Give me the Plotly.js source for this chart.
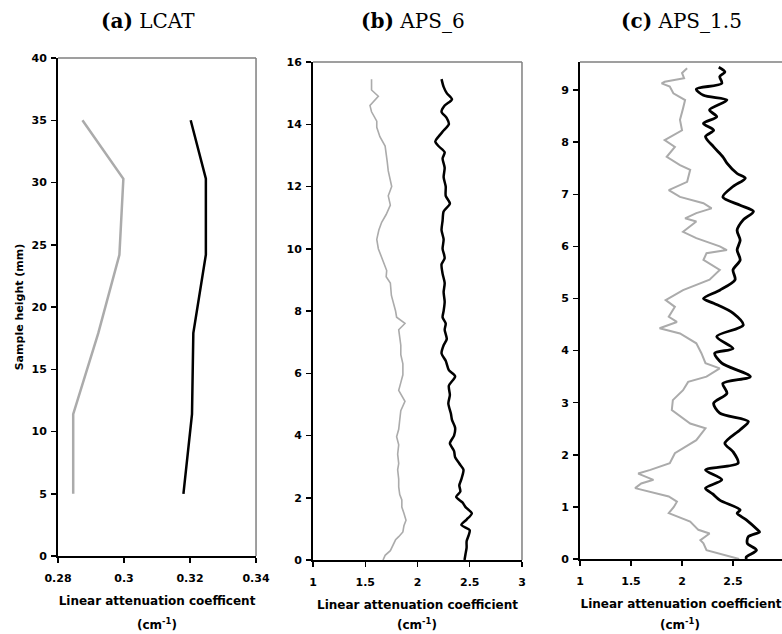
<!DOCTYPE html>
<html>
<head>
<meta charset="utf-8">
<script src="https://cdn.plot.ly/plotly-3.0.1.min.js"></script>
<style>html,body{margin:0;padding:0;background:#fff}#chart{width:782px;height:634px}</style>
</head>
<body>
<div id="chart"></div>
<script>
// ---- Data ----
// (a) LCAT
const heightsA = [5, 11.4, 17.9, 24.2, 30.3, 35];
const grayA    = [0.2846, 0.2846, 0.2922, 0.2986, 0.2998, 0.2874];
const blackA   = [0.318, 0.3206, 0.321, 0.3248, 0.3248, 0.3202];

// (b) APS_6
const heightsBgray = [0,0.15,0.3,0.5,0.65,0.75,0.9,1.1,1.28,1.5,1.7,1.93,2.1,2.35,2.6,2.9,3.1,3.4,3.7,3.96,4.2,4.5,4.8,5.1,5.3,5.45,5.7,5.95,6.3,6.6,6.9,7.2,7.4,7.6,7.8,8.0,8.24,8.5,8.9,9.1,9.3,9.6,10.0,10.3,10.6,10.85,11.1,11.4,11.7,12.0,12.2,12.5,12.8,13.0,13.3,13.6,13.9,14.1,14.4,14.6,14.9,15.1,15.3,15.45];
const grayB = [1.67,1.69,1.74,1.77,1.79,1.82,1.86,1.87,1.89,1.87,1.85,1.85,1.83,1.82,1.82,1.81,1.82,1.81,1.82,1.80,1.82,1.83,1.84,1.88,1.85,1.82,1.84,1.86,1.86,1.84,1.84,1.83,1.82,1.88,1.80,1.79,1.77,1.75,1.74,1.70,1.705,1.67,1.625,1.61,1.63,1.657,1.70,1.74,1.72,1.753,1.74,1.72,1.71,1.70,1.69,1.64,1.61,1.61,1.56,1.545,1.625,1.56,1.56,1.56];
const heightsBblack = [0,0.2,0.4,0.6,0.8,0.96,1.13,1.3,1.5,1.7,1.85,2.03,2.2,2.4,2.6,2.9,3.1,3.3,3.5,3.75,4.0,4.25,4.5,4.7,5.03,5.3,5.6,5.9,6.1,6.4,6.64,6.9,7.1,7.4,7.6,7.8,8.0,8.3,8.6,8.9,9.2,9.5,9.7,10.0,10.3,10.6,10.9,11.2,11.45,11.7,12.0,12.3,12.6,12.9,13.1,13.3,13.45,13.6,13.8,14.0,14.2,14.4,14.6,14.8,15.0,15.2,15.45];
const blackB = [2.45,2.46,2.47,2.47,2.49,2.50,2.42,2.47,2.52,2.46,2.43,2.37,2.41,2.40,2.42,2.44,2.40,2.36,2.35,2.31,2.35,2.36,2.33,2.32,2.295,2.31,2.30,2.36,2.30,2.27,2.23,2.25,2.28,2.26,2.27,2.24,2.25,2.26,2.25,2.26,2.24,2.23,2.26,2.24,2.25,2.23,2.24,2.25,2.31,2.27,2.27,2.25,2.26,2.24,2.26,2.20,2.17,2.20,2.25,2.30,2.28,2.23,2.26,2.33,2.28,2.25,2.23];

// (c) APS_1.5
const heightsCgray = [0,0.08,0.17,0.3,0.36,0.49,0.56,0.72,0.88,1.0,1.1,1.2,1.36,1.45,1.52,1.64,1.71,1.84,2.03,2.28,2.51,2.6,2.86,3.05,3.24,3.4,3.5,3.66,3.76,3.95,4.14,4.33,4.43,4.55,4.65,4.84,4.97,5.16,5.36,5.55,5.74,5.87,5.93,6.0,6.16,6.28,6.48,6.54,6.64,6.73,6.83,6.95,7.08,7.24,7.47,7.56,7.72,7.91,8.04,8.23,8.43,8.65,8.81,8.94,9.07,9.13,9.16,9.23,9.33,9.42];
const grayC = [2.56,2.40,2.24,2.21,2.18,2.27,2.16,2.08,1.87,1.92,1.95,1.87,1.54,1.60,1.72,1.57,1.69,1.88,1.93,2.14,2.23,2.08,1.90,1.91,2.01,2.06,2.24,2.37,2.23,2.19,2.14,1.98,1.78,1.95,1.87,1.93,1.84,2.01,2.27,2.37,2.21,2.24,2.44,2.37,2.14,2.01,2.14,2.03,2.14,2.29,2.21,1.98,1.87,2.05,2.08,1.98,1.85,1.93,1.83,2.0,1.98,2.01,2.03,1.915,1.88,1.80,1.83,2.02,2.0,2.05];
const heightsCblack = [0,0.04,0.17,0.3,0.43,0.52,0.56,0.75,0.88,0.94,1.13,1.25,1.36,1.52,1.71,1.84,2.06,2.22,2.48,2.64,2.8,2.99,3.18,3.37,3.5,3.76,3.95,4.04,4.27,4.49,4.72,4.91,5.0,5.16,5.36,5.55,5.74,5.93,6.12,6.31,6.51,6.67,6.79,6.95,7.15,7.31,7.4,7.6,7.72,7.91,8.11,8.23,8.36,8.49,8.62,8.81,8.9,9.02,9.13,9.26,9.35,9.44];
const blackC = [2.63,2.63,2.73,2.64,2.65,2.76,2.74,2.63,2.54,2.57,2.37,2.30,2.23,2.39,2.23,2.55,2.50,2.42,2.57,2.65,2.37,2.31,2.44,2.40,2.67,2.39,2.32,2.50,2.34,2.60,2.50,2.31,2.21,2.37,2.52,2.50,2.57,2.54,2.57,2.54,2.60,2.70,2.57,2.40,2.50,2.62,2.54,2.44,2.40,2.31,2.23,2.31,2.21,2.34,2.27,2.44,2.21,2.14,2.39,2.37,2.42,2.36];

const panelTitles = ['<b>(a)</b> LCAT', '<b>(b)</b> APS_6', '<b>(c)</b> APS_1.5'];
const xTitleA = 'Linear attenuation coefficent';
const xTitleBC = 'Linear attenuation coefficient';
const unitText = '(cm<sup>-1</sup>)';
const yTitle = 'Sample height (mm)';

// ---- Styling ----
const GRAY = '#ababab';
const BLACK = '#000000';
const SANS = 'DejaVu Sans, Arial, sans-serif';
const tickFont = {family: SANS, size: 11, color: '#000', weight: 'bold'};
const titleFont = {family: SANS, size: 12, color: '#000', weight: 'bold'};

const traces = [
  {x: grayA, y: heightsA, xaxis: 'x', yaxis: 'y', mode: 'lines', line: {color: GRAY, width: 2.5}},
  {x: blackA, y: heightsA, xaxis: 'x', yaxis: 'y', mode: 'lines', line: {color: BLACK, width: 2.5}},
  {x: grayB, y: heightsBgray, xaxis: 'x2', yaxis: 'y2', mode: 'lines', line: {color: GRAY, width: 1.6}},
  {x: blackB, y: heightsBblack, xaxis: 'x2', yaxis: 'y2', mode: 'lines', line: {color: BLACK, width: 2.5, shape: 'spline', smoothing: 0.7}},
  {x: grayC, y: heightsCgray, xaxis: 'x3', yaxis: 'y3', mode: 'lines', line: {color: GRAY, width: 2}},
  {x: blackC, y: heightsCblack, xaxis: 'x3', yaxis: 'y3', mode: 'lines', line: {color: BLACK, width: 2.8, shape: 'spline', smoothing: 0.8}}
];

function xax(domain, range, dtick, title, anchor) {
  return {domain: domain, range: range, dtick: dtick, tick0: range[0], anchor: anchor,
    showgrid: false, zeroline: false, showline: true, linecolor: '#000', linewidth: 2,
    ticks: 'outside', ticklen: 5, tickwidth: 1.5, tickcolor: '#000', tickfont: tickFont,
    ticklabelstandoff: 6,
    title: {text: title, font: titleFont, standoff: 12}, automargin: false, fixedrange: true};
}
function yax(domain, range, dtick, anchor, title) {
  const a = {domain: domain, range: range, dtick: dtick, tick0: 0, anchor: anchor,
    showgrid: false, zeroline: false, showline: true, linecolor: '#000', linewidth: 2,
    ticks: 'outside', ticklen: 5, tickwidth: 1.5, tickcolor: '#000', tickfont: tickFont,
    ticklabelstandoff: 2,
    automargin: false, fixedrange: true};
  if (title) a.title = {text: title, font: {family: SANS, size: 11, color: '#000', weight: 'bold'}, standoff: 6};
  return a;
}

const dA = {x: [0.0742, 0.3274], y: [0.1230, 0.9085]};
const dB = {x: [0.4003, 0.6675], y: [0.1167, 0.9022]};
const dC = {x: [0.7417, 1.0], y: [0.1183, 0.9022]};

function border(xr, yr, top, right) {
  const s = [];
  if (top) s.push({type: 'line', xref: xr + ' domain', yref: yr + ' domain', x0: 0, x1: 1, y0: 1, y1: 1, line: {color: '#7f7f7f', width: 1.5}});
  if (right) s.push({type: 'line', xref: xr + ' domain', yref: yr + ' domain', x0: 1, x1: 1, y0: 0, y1: 1, line: {color: '#7f7f7f', width: 1.5}});
  return s;
}

function titleAnn(text, xpx) {
  return {text: text, xref: 'paper', yref: 'paper', x: xpx / 782, y: 1 - 21 / 634, showarrow: false,
    xanchor: 'center', yanchor: 'middle', font: {family: 'DejaVu Serif, serif', size: 20, color: '#000'}};
}
function unitAnn(xpx) {
  return {text: unitText, xref: 'paper', yref: 'paper', x: xpx / 782, y: 1 - 624 / 634, showarrow: false,
    xanchor: 'center', yanchor: 'middle', font: titleFont};
}

const layout = {
  width: 782, height: 634,
  margin: {l: 0, r: 0, t: 0, b: 0},
  paper_bgcolor: '#fff', plot_bgcolor: '#fff',
  showlegend: false,
  xaxis: xax(dA.x, [0.28, 0.34], 0.02, xTitleA, 'y'),
  yaxis: yax(dA.y, [0, 40], 5, 'x', yTitle),
  xaxis2: xax(dB.x, [1, 3], 0.5, xTitleBC, 'y2'),
  yaxis2: yax(dB.y, [0, 16], 2, 'x2'),
  xaxis3: xax(dC.x, [1, 2.98], 0.5, xTitleBC, 'y3'),
  yaxis3: yax(dC.y, [0, 9.54], 1, 'x3'),
  shapes: [].concat(border('x', 'y', true, true), border('x2', 'y2', true, true), border('x3', 'y3', true, false)),
  annotations: [
    titleAnn(panelTitles[0], 148), titleAnn(panelTitles[1], 413), titleAnn(panelTitles[2], 681),
    unitAnn(157), unitAnn(417), unitAnn(680)
  ]
};

Plotly.newPlot('chart', traces, layout, {staticPlot: true, displayModeBar: false});
</script>
</body>
</html>
